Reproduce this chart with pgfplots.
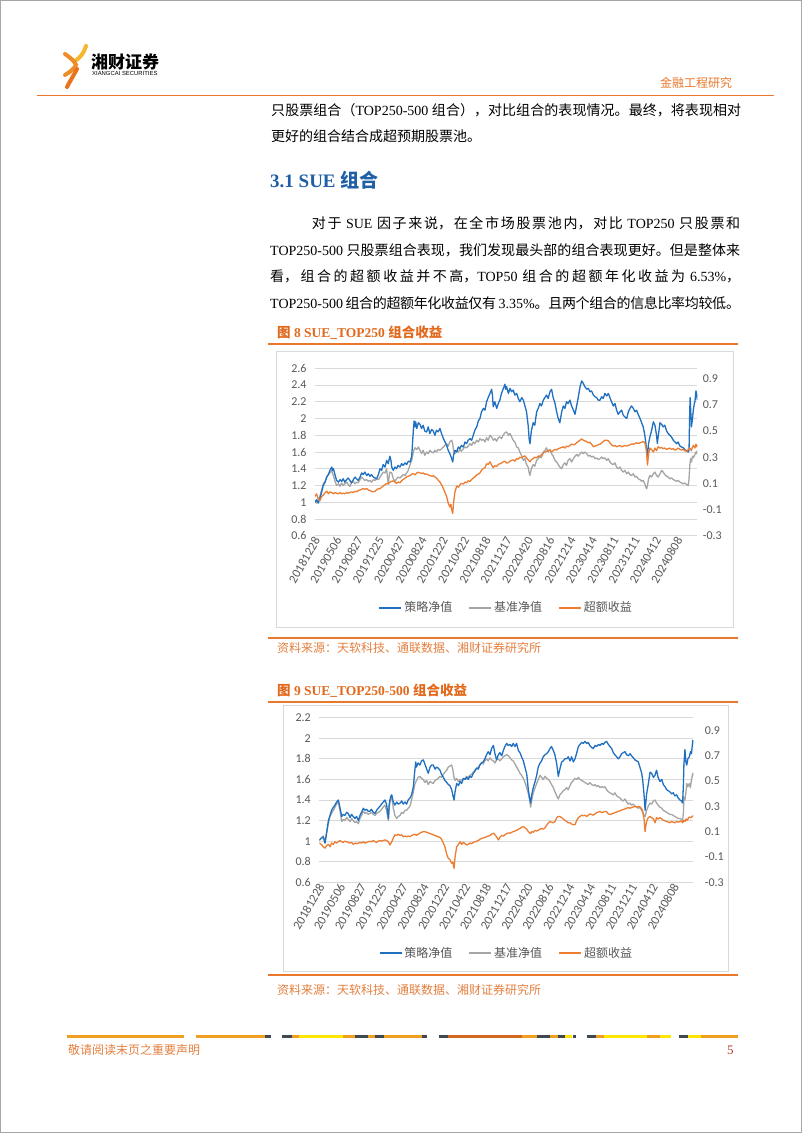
\documentclass[border=0pt]{standalone}
\usepackage{fontspec}
\setmainfont{Liberation Serif}
\newfontfamily\cjk{Noto Sans CJK SC}
\newfontfamily\tickfont{Carlito}
\newfontfamily\arialf{Liberation Sans}
\usepackage{pgfplots}
\pgfplotsset{compat=1.18}
\XeTeXlinebreaklocale "zh"
\XeTeXlinebreakskip=0pt plus 3pt minus 0.4pt
\definecolor{hdrorange}{HTML}{E9782C}
\definecolor{headblue}{HTML}{1F5FA6}
\definecolor{figorange}{HTML}{E2691C}
\definecolor{srcorange}{HTML}{E4803F}
\definecolor{sblue}{HTML}{1F70C1}
\definecolor{sgrey}{HTML}{A5A5A5}
\definecolor{sorange}{HTML}{ED7D31}
\definecolor{labc}{HTML}{595959}
\definecolor{gridc}{HTML}{D9D9D9}
\definecolor{fdark}{HTML}{404850}
\definecolor{fgold}{HTML}{F0A020}
\definecolor{fyel}{HTML}{FFE600}
\definecolor{fburnt}{HTML}{D2691E}
\newcommand\tickf{\tickfont\fontsize{12}{13}\selectfont}
\newcommand\xtickf{\tickfont\fontsize{12.5}{13}\selectfont}
\newcommand\bodyf{\fontsize{14}{16}\selectfont}
\newcommand\jline[2]{\parbox{#1}{\bodyf\parfillskip=0pt\parindent=0pt\noindent #2}}
\pgfplotsset{
  chartbase/.style={
    anchor=south west, scale only axis, xmin=0, xmax=1435,
    axis line style={draw=none}, major tick length=0pt,
    tick label style={font=\tickf, text=labc},
  },
  leftax/.style={
    chartbase, ymajorgrids, grid style={draw=gridc, line width=0.8pt},
    xtick={0,80,160,240,320,400,480,560,640,720,800,880,960,1040,1120,1200,1280,1360},
    xticklabels={20181228,20190506,20190827,20191225,20200427,20200824,20201222,20210422,20210818,20211217,20220420,20220816,20221214,20230414,20230811,20231211,20240412,20240808},
    xticklabel style={rotate=60, anchor=east, inner sep=1pt, yshift=-3pt, font=\xtickf},
    yticklabel style={anchor=east, xshift=-5pt},
  },
  rightax/.style={
    chartbase, axis y line*=right, axis x line=none,
    ymin=-0.3, ytick={-0.3,-0.1,0.1,0.3,0.5,0.7,0.9},
    yticklabels={-0.3,-0.1,0.1,0.3,0.5,0.7,0.9},
    legend style={at={(0.5,-0.43)}, anchor=center, draw=none, fill=none,
      legend columns=3, font=\cjk\fontsize{12}{14}\selectfont, text=labc,
      /tikz/every even column/.append style={column sep=14pt}},
    legend image code/.code={\draw[#1] (0pt,0pt) -- (22pt,0pt);},
  },
  bl/.style={sblue, line width=1.3pt, line join=round},
  gr/.style={sgrey, line width=1.3pt, line join=round},
  orl/.style={sorange, line width=1.3pt, line join=round},
}
\begin{document}
\begin{tikzpicture}
\useasboundingbox (0,0) rectangle (802pt,1133pt);
\begin{scope}[x=1pt,y=1pt]
\fill[white] (0,0) rectangle (802,1133);
\draw[gray!70, line width=1pt] (0.5,0.5) rectangle (801.5,1132.5);
% logo
\draw[color={rgb,255:red,247;green,181;blue,44}, line width=4pt, line cap=round] (86,1087) .. controls (84,1080) and (80,1075) .. (75,1072);
\draw[color={rgb,255:red,240;green,140;blue,40}, line width=4pt, line cap=round] (65,1079) .. controls (71,1075) and (75,1071) .. (76,1068) .. controls (74,1064) and (70,1061) .. (65,1058);
\draw[color={rgb,255:red,232;green,115;blue,28}, line width=4pt, line cap=round] (77,1064) .. controls (74,1058) and (70,1052) .. (67,1046);
\node[anchor=west, inner sep=0pt, font=\cjk\bfseries\fontsize{17}{18}\selectfont] at (91,1071.5) {湘财证券};
\node[anchor=west, inner sep=0pt, font=\arialf\fontsize{5.9}{7}\selectfont] at (92,1059.5) {XIANGCAI SECURITIES};
\node[anchor=west, inner sep=0pt, font=\cjk\fontsize{12}{14}\selectfont, text=hdrorange] at (660,1050.3) {金融工程研究};
\draw[hdrorange, line width=1.5pt] (37,1037.5) -- (774,1037.5);
% body text
\node[anchor=west, inner sep=0pt] at (271,1023) {\jline{470pt}{{\cjk 只股票组合（}TOP250-500 {\cjk 组合），对比组合的表现情况。最终，将表现相对}}};
\node[anchor=west, inner sep=0pt, font=\bodyf] at (271,996.3) {{\cjk 更好的组合结合成超预期股票池。}};
\node[anchor=west, inner sep=0pt, font=\fontsize{19}{21}\selectfont\bfseries, text=headblue] at (270,953) {3.1 SUE {\cjk\bfseries 组合}};
\node[anchor=west, inner sep=0pt] at (311.7,909.7) {\jline{428.3pt}{{\cjk 对于} SUE {\cjk 因子来说，在全市场股票池内，对比} TOP250 {\cjk 只股票和}}};
\node[anchor=west, inner sep=0pt] at (270,883) {\jline{470pt}{TOP250-500 {\cjk 只股票组合表现，我们发现最头部的组合表现更好。但是整体来}}};
\node[anchor=west, inner sep=0pt] at (270,856.3) {\jline{470pt}{{\cjk 看，组合的超额收益并不高，}TOP50 {\cjk 组合的超额年化收益为} 6.53\%{\cjk ，}}};
\node[anchor=west, inner sep=0pt] at (270,829.7) {\jline{470pt}{TOP250-500 {\cjk 组合的超额年化收益仅有} 3.35\%{\cjk 。且两个组合的信息比率均较低。}}};
% figure 8 frame
\node[anchor=west, inner sep=0pt, font=\fontsize{13.5}{15}\selectfont\bfseries, text=figorange] at (277,800) {{\cjk\bfseries 图} 8 SUE\_TOP250 {\cjk\bfseries 组合收益}};
\draw[hdrorange, line width=1.3pt] (268,789) -- (738,789);
\draw[gridc, line width=0.8pt] (276.7,506) rectangle (733,782);
\draw[hdrorange, line width=1.3pt] (268,495) -- (738,495);
\node[anchor=west, inner sep=0pt, font=\cjk\fontsize{12}{14}\selectfont, text=srcorange] at (277,485) {资料来源：天软科技、通联数据、湘财证券研究所};
% figure 9 frame
\node[anchor=west, inner sep=0pt, font=\fontsize{13.5}{15}\selectfont\bfseries, text=figorange] at (277,442.5) {{\cjk\bfseries 图} 9 SUE\_TOP250-500 {\cjk\bfseries 组合收益}};
\draw[hdrorange, line width=1.3pt] (268,431) -- (738,431);
\draw[gridc, line width=0.8pt] (283,161.3) rectangle (728,428);
\draw[hdrorange, line width=1.3pt] (268,158) -- (738,158);
\node[anchor=west, inner sep=0pt, font=\cjk\fontsize{12}{14}\selectfont, text=srcorange] at (277,143) {资料来源：天软科技、通联数据、湘财证券研究所};
% footer
\begin{scope}[line width=3pt]
\draw[fgold] (66.5,96) -- (184,96);
\draw[fgold] (196,96) -- (265,96); \draw[fdark] (265,96) -- (271,96);
\draw[fdark] (282,96) -- (292,96); \draw[fgold] (292,96) -- (299,96); \draw[fyel] (299,96) -- (343,96);
\draw[fgold] (343,96) -- (355,96); \draw[fdark] (355,96) -- (368,96); \draw[fgold] (368,96) -- (375,96);
\draw[fdark] (375,96) -- (384,96); \draw[fgold] (384,96) -- (422,96); \draw[fdark] (422,96) -- (427,96);
\draw[fdark] (439,96) -- (447.5,96); \draw[fburnt] (447.5,96) -- (522,96); \draw[fgold] (522,96) -- (537,96);
\draw[fdark] (537,96) -- (550,96); \draw[fgold] (550,96) -- (557.5,96); \draw[fdark] (557.5,96) -- (565,96);
\draw[fyel] (565,96) -- (572,96); \draw[fdark] (572.5,96) -- (575.5,96);
\draw[fdark] (587,96) -- (596,96); \draw[fgold] (596,96) -- (604,96); \draw[fyel] (604,96) -- (647,96);
\draw[fgold] (647,96) -- (660,96); \draw[fyel] (660,96) -- (671,96);
\draw[fdark] (679,96) -- (688,96); \draw[fyel] (688,96) -- (701,96); \draw[fgold] (701,96) -- (737.6,96);
\end{scope}
\node[anchor=west, inner sep=0pt, font=\cjk\fontsize{12}{14}\selectfont, text=srcorange] at (68,83) {敬请阅读末页之重要声明};
\node[anchor=west, inner sep=0pt, font=\fontsize{13}{14}\selectfont, text={rgb,255:red,192;green,57;blue,43}] at (727,83) {5};
\end{scope}

% ===== Chart 1 =====
\begin{axis}[leftax, at={(315pt,597.3pt)}, width=382.3pt, height=167.4pt,
  ymin=0.6, ymax=2.6, ytick={0.6,0.8,1,1.2,1.4,1.6,1.8,2,2.2,2.4,2.6},
  yticklabels={0.6,0.8,1,1.2,1.4,1.6,1.8,2,2.2,2.4,2.6}]
\addplot[gr] coordinates {(0,1.00)(6,0.99)(12,1.03)(19,1.08)(25,1.15)(31,1.22)(38,1.25)(44,1.30)(50,1.33)(56,1.35)(63,1.38)(66,1.34)(69,1.32)(75,1.25)(81,1.20)(88,1.22)(94,1.19)(100,1.23)(106,1.20)(112,1.22)(119,1.24)(125,1.21)(131,1.19)(137,1.23)(144,1.25)(150,1.22)(156,1.24)(162,1.23)(169,1.27)(175,1.30)(181,1.28)(187,1.26)(194,1.27)(200,1.25)(206,1.26)(212,1.24)(219,1.27)(225,1.26)(231,1.28)(238,1.27)(244,1.30)(250,1.33)(256,1.36)(263,1.35)(269,1.40)(272,1.30)(275,1.22)(278,1.30)(281,1.36)(288,1.35)(294,1.28)(300,1.25)(306,1.28)(312,1.30)(319,1.29)(325,1.31)(331,1.33)(338,1.32)(344,1.35)(350,1.38)(357,1.45)(363,1.50)(369,1.60)(375,1.65)(382,1.63)(388,1.66)(394,1.62)(400,1.58)(406,1.62)(412,1.56)(419,1.60)(425,1.58)(431,1.62)(438,1.60)(444,1.59)(450,1.62)(456,1.60)(462,1.63)(469,1.62)(475,1.64)(482,1.66)(488,1.68)(494,1.70)(500,1.67)(506,1.72)(513,1.74)(517,1.70)(520,1.62)(525,1.58)(532,1.62)(538,1.60)(544,1.63)(550,1.61)(557,1.64)(563,1.66)(569,1.65)(575,1.67)(582,1.70)(588,1.68)(594,1.72)(600,1.70)(607,1.74)(613,1.72)(619,1.76)(625,1.74)(632,1.75)(638,1.72)(644,1.77)(650,1.74)(657,1.80)(663,1.78)(669,1.74)(675,1.76)(682,1.73)(688,1.77)(694,1.78)(700,1.76)(706,1.80)(713,1.83)(719,1.84)(726,1.80)(732,1.82)(738,1.78)(744,1.74)(750,1.72)(757,1.66)(763,1.65)(769,1.60)(776,1.55)(782,1.50)(788,1.52)(794,1.45)(800,1.42)(804,1.35)(807,1.32)(812,1.40)(819,1.45)(825,1.43)(832,1.50)(838,1.52)(844,1.55)(850,1.53)(857,1.60)(863,1.62)(869,1.65)(875,1.60)(882,1.63)(888,1.58)(894,1.55)(901,1.50)(907,1.48)(913,1.45)(919,1.42)(926,1.40)(932,1.45)(938,1.47)(944,1.44)(950,1.50)(957,1.52)(963,1.48)(970,1.52)(976,1.55)(982,1.57)(988,1.55)(995,1.58)(1001,1.60)(1007,1.58)(1013,1.60)(1020,1.58)(1026,1.55)(1032,1.56)(1038,1.54)(1045,1.55)(1051,1.52)(1057,1.53)(1063,1.51)(1070,1.52)(1076,1.54)(1082,1.52)(1088,1.53)(1095,1.50)(1101,1.52)(1107,1.48)(1113,1.46)(1120,1.45)(1126,1.47)(1132,1.42)(1138,1.40)(1145,1.42)(1151,1.38)(1157,1.36)(1163,1.38)(1170,1.34)(1176,1.36)(1182,1.33)(1188,1.32)(1195,1.34)(1201,1.30)(1207,1.31)(1213,1.28)(1220,1.27)(1226,1.25)(1232,1.26)(1238,1.22)(1242,1.18)(1245,1.16)(1248,1.20)(1252,1.28)(1257,1.32)(1263,1.30)(1270,1.34)(1276,1.36)(1282,1.32)(1288,1.30)(1295,1.34)(1301,1.38)(1307,1.36)(1313,1.33)(1320,1.31)(1326,1.30)(1332,1.28)(1338,1.29)(1345,1.27)(1351,1.26)(1357,1.25)(1363,1.26)(1370,1.24)(1376,1.23)(1382,1.22)(1388,1.23)(1395,1.21)(1401,1.20)(1404,1.28)(1407,1.45)(1410,1.52)(1413,1.48)(1417,1.55)(1420,1.53)(1426,1.57)(1430,1.60)(1433,1.58)(1435,1.62)};
\addplot[bl] coordinates {(0,1.00)(6,1.03)(12,0.99)(19,1.05)(25,1.12)(31,1.20)(38,1.24)(44,1.30)(50,1.33)(56,1.38)(63,1.42)(66,1.38)(69,1.40)(75,1.33)(81,1.26)(88,1.24)(94,1.27)(100,1.25)(106,1.28)(112,1.24)(119,1.27)(125,1.29)(131,1.26)(137,1.23)(144,1.27)(150,1.30)(156,1.28)(162,1.26)(169,1.30)(175,1.35)(181,1.33)(187,1.36)(194,1.32)(200,1.34)(206,1.31)(212,1.33)(219,1.30)(225,1.29)(231,1.28)(238,1.33)(244,1.40)(250,1.38)(256,1.45)(263,1.42)(269,1.50)(275,1.46)(281,1.55)(285,1.50)(288,1.42)(294,1.38)(300,1.42)(306,1.40)(312,1.44)(319,1.42)(325,1.46)(331,1.44)(338,1.47)(344,1.45)(350,1.49)(357,1.48)(363,1.55)(366,1.70)(369,1.85)(372,1.97)(375,1.90)(378,1.96)(382,1.88)(388,1.95)(394,1.93)(400,1.88)(406,1.92)(412,1.85)(419,1.84)(425,1.90)(431,1.82)(438,1.87)(444,1.85)(450,1.80)(456,1.86)(462,1.84)(469,1.88)(475,1.82)(482,1.76)(488,1.72)(494,1.68)(500,1.62)(506,1.58)(510,1.55)(513,1.52)(517,1.48)(520,1.56)(525,1.62)(532,1.60)(538,1.66)(544,1.64)(550,1.68)(557,1.66)(563,1.72)(569,1.70)(575,1.74)(582,1.76)(588,1.74)(594,1.80)(600,1.86)(607,1.90)(613,1.97)(619,2.00)(625,2.08)(632,2.12)(638,2.10)(644,2.20)(650,2.25)(657,2.30)(663,2.35)(666,2.28)(669,2.14)(675,2.20)(682,2.12)(688,2.18)(694,2.22)(700,2.30)(706,2.35)(713,2.41)(716,2.35)(719,2.38)(726,2.30)(732,2.36)(738,2.32)(744,2.34)(750,2.28)(757,2.30)(763,2.24)(769,2.20)(776,2.25)(782,2.22)(788,2.15)(794,2.08)(800,1.92)(804,1.75)(807,1.70)(812,1.85)(819,1.95)(825,1.92)(832,2.08)(838,2.12)(844,2.18)(850,2.15)(857,2.22)(863,2.25)(869,2.28)(875,2.24)(882,2.32)(888,2.35)(894,2.25)(901,2.18)(907,2.08)(913,2.00)(919,1.95)(926,2.08)(932,2.15)(938,2.12)(944,2.20)(950,2.18)(957,2.22)(963,2.15)(970,2.10)(976,2.05)(982,2.15)(988,2.25)(995,2.38)(1001,2.45)(1007,2.42)(1013,2.38)(1020,2.35)(1026,2.36)(1032,2.32)(1038,2.33)(1045,2.28)(1051,2.26)(1057,2.25)(1063,2.22)(1070,2.22)(1076,2.26)(1082,2.24)(1088,2.30)(1095,2.27)(1101,2.30)(1107,2.25)(1113,2.20)(1120,2.15)(1126,2.18)(1132,2.10)(1138,2.05)(1145,2.08)(1151,2.10)(1157,2.04)(1163,2.02)(1170,2.00)(1176,2.08)(1182,2.12)(1188,2.15)(1195,2.12)(1201,2.08)(1207,2.10)(1213,2.05)(1220,2.00)(1226,1.95)(1232,1.90)(1238,1.80)(1242,1.70)(1245,1.62)(1248,1.55)(1252,1.70)(1257,1.78)(1263,1.85)(1270,1.96)(1276,1.92)(1282,1.80)(1285,1.70)(1288,1.78)(1295,1.95)(1301,1.93)(1307,1.90)(1313,1.92)(1320,1.85)(1326,1.82)(1332,1.80)(1338,1.78)(1345,1.74)(1351,1.72)(1357,1.70)(1363,1.72)(1370,1.67)(1376,1.66)(1382,1.65)(1388,1.63)(1395,1.61)(1401,1.60)(1404,1.62)(1406,2.00)(1408,2.25)(1411,2.05)(1413,1.90)(1417,2.00)(1420,2.10)(1424,2.18)(1426,2.20)(1430,2.33)(1433,2.28)(1435,2.22)};
\end{axis}
\begin{axis}[rightax, at={(315pt,597.3pt)}, width=382.3pt, height=167.4pt,
  ymax=0.98, yticklabel style={anchor=west, xshift=2pt}]
\addlegendimage{bl, line width=1.8pt}\addlegendentry{策略净值}
\addlegendimage{gr, line width=1.8pt}\addlegendentry{基准净值}
\addlegendimage{orl, line width=1.8pt}\addlegendentry{超额收益}
\addplot[orl, forget plot] coordinates {(0,0.00)(6,0.02)(12,-0.02)(19,-0.03)(25,0.00)(31,0.01)(38,0.03)(44,0.04)(50,0.02)(56,0.035)(63,0.03)(69,0.02)(75,0.03)(81,0.025)(88,0.02)(94,0.03)(100,0.02)(106,0.025)(112,0.02)(119,0.03)(125,0.025)(131,0.03)(137,0.035)(144,0.03)(150,0.04)(156,0.035)(162,0.045)(169,0.05)(175,0.055)(181,0.06)(187,0.055)(194,0.06)(200,0.05)(206,0.045)(212,0.04)(219,0.035)(225,0.04)(231,0.05)(238,0.06)(244,0.06)(250,0.07)(256,0.08)(263,0.09)(269,0.10)(275,0.095)(281,0.11)(288,0.115)(294,0.12)(300,0.11)(306,0.10)(312,0.11)(319,0.105)(325,0.12)(331,0.13)(338,0.14)(344,0.15)(350,0.155)(357,0.16)(363,0.17)(369,0.175)(375,0.165)(382,0.18)(388,0.185)(394,0.18)(400,0.175)(406,0.18)(412,0.17)(419,0.172)(425,0.165)(431,0.16)(438,0.155)(444,0.158)(450,0.15)(456,0.14)(462,0.125)(469,0.11)(475,0.09)(482,0.06)(488,0.03)(494,0.00)(500,-0.05)(506,-0.08)(510,-0.06)(513,-0.10)(517,-0.13)(520,-0.05)(525,0.03)(529,0.06)(532,0.08)(538,0.07)(544,0.09)(550,0.10)(557,0.095)(563,0.11)(569,0.105)(575,0.12)(582,0.115)(588,0.13)(594,0.14)(600,0.15)(607,0.165)(613,0.17)(619,0.18)(625,0.20)(632,0.215)(638,0.22)(644,0.25)(650,0.245)(657,0.265)(663,0.24)(669,0.22)(675,0.235)(682,0.23)(688,0.245)(694,0.25)(700,0.255)(706,0.265)(713,0.27)(719,0.255)(726,0.26)(732,0.27)(738,0.275)(744,0.28)(750,0.27)(757,0.29)(763,0.285)(769,0.30)(776,0.295)(782,0.305)(788,0.31)(794,0.295)(800,0.28)(807,0.265)(812,0.28)(819,0.29)(825,0.30)(832,0.295)(838,0.31)(844,0.305)(850,0.32)(857,0.33)(863,0.34)(869,0.345)(875,0.35)(882,0.355)(888,0.34)(894,0.35)(901,0.36)(907,0.355)(913,0.365)(919,0.37)(926,0.375)(932,0.38)(938,0.37)(944,0.385)(950,0.38)(957,0.39)(963,0.40)(970,0.395)(976,0.40)(982,0.41)(988,0.42)(995,0.43)(1001,0.44)(1007,0.43)(1013,0.425)(1020,0.42)(1026,0.41)(1032,0.415)(1038,0.40)(1045,0.38)(1051,0.385)(1057,0.39)(1063,0.395)(1070,0.40)(1076,0.41)(1082,0.42)(1088,0.43)(1095,0.43)(1101,0.425)(1107,0.41)(1113,0.395)(1120,0.385)(1126,0.39)(1132,0.38)(1138,0.385)(1145,0.39)(1151,0.38)(1157,0.385)(1163,0.39)(1170,0.385)(1176,0.39)(1182,0.395)(1188,0.40)(1195,0.40)(1201,0.405)(1207,0.41)(1213,0.405)(1220,0.41)(1226,0.415)(1232,0.42)(1238,0.41)(1242,0.38)(1245,0.32)(1248,0.24)(1252,0.32)(1257,0.37)(1263,0.36)(1270,0.34)(1276,0.37)(1282,0.35)(1288,0.38)(1295,0.37)(1301,0.375)(1307,0.365)(1313,0.37)(1320,0.36)(1326,0.365)(1332,0.37)(1338,0.36)(1345,0.365)(1351,0.355)(1357,0.36)(1363,0.37)(1370,0.36)(1376,0.355)(1382,0.36)(1388,0.35)(1395,0.345)(1401,0.36)(1407,0.37)(1413,0.35)(1417,0.38)(1420,0.39)(1426,0.37)(1430,0.40)(1433,0.38)(1435,0.395)};
\end{axis}

% ===== Chart 2 =====
\begin{axis}[leftax, at={(319.3pt,250.7pt)}, width=374pt, height=164.6pt,
  ymin=0.6, ymax=2.2, ytick={0.6,0.8,1,1.2,1.4,1.6,1.8,2,2.2},
  yticklabels={0.6,0.8,1,1.2,1.4,1.6,1.8,2,2.2}]
\addplot[gr] coordinates {(0,1.01)(8,1.03)(15,1.05)(22,1.00)(28,1.08)(35,1.18)(41,1.24)(47,1.27)(54,1.30)(60,1.33)(66,1.36)(73,1.38)(79,1.30)(86,1.19)(92,1.21)(98,1.20)(105,1.23)(111,1.21)(118,1.19)(124,1.22)(130,1.20)(137,1.18)(143,1.19)(150,1.17)(156,1.22)(162,1.25)(169,1.29)(175,1.27)(181,1.28)(188,1.26)(194,1.27)(200,1.28)(207,1.26)(214,1.25)(220,1.27)(226,1.28)(233,1.29)(239,1.31)(245,1.33)(252,1.35)(258,1.30)(262,1.24)(265,1.20)(268,1.32)(271,1.38)(275,1.42)(278,1.43)(284,1.32)(290,1.25)(297,1.22)(303,1.24)(310,1.25)(316,1.28)(322,1.27)(329,1.30)(335,1.30)(341,1.32)(348,1.34)(354,1.40)(361,1.48)(367,1.56)(373,1.59)(379,1.62)(386,1.63)(392,1.61)(399,1.60)(405,1.57)(412,1.59)(418,1.55)(425,1.58)(431,1.57)(437,1.56)(444,1.59)(450,1.60)(456,1.61)(463,1.63)(469,1.62)(476,1.65)(482,1.67)(489,1.69)(495,1.72)(501,1.73)(508,1.74)(512,1.70)(517,1.62)(521,1.59)(527,1.61)(534,1.58)(540,1.60)(546,1.59)(553,1.61)(559,1.60)(565,1.63)(571,1.62)(578,1.64)(584,1.65)(591,1.67)(597,1.69)(604,1.71)(610,1.72)(616,1.74)(622,1.76)(629,1.75)(635,1.78)(642,1.80)(648,1.78)(655,1.81)(661,1.79)(668,1.78)(674,1.76)(680,1.79)(687,1.80)(693,1.78)(700,1.80)(706,1.82)(712,1.83)(719,1.84)(725,1.83)(732,1.81)(738,1.79)(744,1.78)(751,1.75)(757,1.72)(764,1.69)(770,1.66)(776,1.64)(783,1.61)(789,1.57)(796,1.52)(802,1.46)(807,1.40)(811,1.33)(815,1.40)(821,1.47)(828,1.52)(834,1.56)(840,1.60)(847,1.64)(853,1.62)(859,1.60)(866,1.63)(872,1.61)(879,1.60)(885,1.58)(891,1.55)(898,1.52)(904,1.48)(911,1.44)(917,1.41)(923,1.45)(930,1.47)(936,1.49)(942,1.50)(949,1.52)(955,1.50)(962,1.54)(968,1.57)(975,1.59)(981,1.61)(988,1.60)(994,1.62)(1000,1.60)(1007,1.59)(1013,1.58)(1019,1.57)(1026,1.56)(1032,1.55)(1038,1.57)(1045,1.55)(1051,1.54)(1058,1.55)(1064,1.53)(1071,1.54)(1077,1.52)(1084,1.53)(1090,1.52)(1096,1.53)(1102,1.50)(1109,1.48)(1115,1.47)(1122,1.46)(1128,1.45)(1134,1.47)(1141,1.44)(1147,1.43)(1154,1.42)(1160,1.40)(1166,1.39)(1173,1.41)(1179,1.38)(1186,1.36)(1192,1.37)(1198,1.35)(1205,1.36)(1211,1.34)(1218,1.33)(1224,1.32)(1230,1.33)(1237,1.30)(1241,1.28)(1246,1.25)(1250,1.24)(1256,1.30)(1262,1.34)(1269,1.37)(1275,1.36)(1282,1.39)(1288,1.40)(1294,1.37)(1300,1.35)(1307,1.33)(1314,1.32)(1320,1.30)(1326,1.29)(1333,1.28)(1339,1.27)(1345,1.26)(1352,1.26)(1358,1.25)(1364,1.24)(1371,1.23)(1377,1.22)(1384,1.22)(1390,1.21)(1394,1.20)(1397,1.28)(1399,1.43)(1403,1.40)(1407,1.48)(1410,1.56)(1414,1.53)(1420,1.56)(1424,1.52)(1428,1.60)(1433,1.66)(1435,1.63)};
\addplot[bl] coordinates {(0,1.01)(8,1.03)(15,1.04)(22,0.98)(28,1.08)(35,1.20)(41,1.25)(47,1.30)(54,1.33)(60,1.35)(66,1.38)(73,1.40)(79,1.33)(86,1.24)(92,1.26)(98,1.25)(105,1.28)(111,1.27)(118,1.23)(124,1.26)(130,1.24)(137,1.22)(143,1.24)(150,1.20)(156,1.25)(162,1.28)(169,1.32)(175,1.30)(181,1.31)(188,1.29)(194,1.29)(200,1.31)(207,1.28)(214,1.27)(220,1.30)(226,1.32)(233,1.34)(239,1.36)(245,1.38)(252,1.40)(258,1.36)(262,1.28)(265,1.22)(268,1.35)(271,1.40)(275,1.44)(278,1.45)(284,1.38)(290,1.35)(297,1.38)(303,1.36)(310,1.37)(316,1.39)(322,1.36)(329,1.38)(335,1.36)(341,1.40)(348,1.42)(354,1.45)(361,1.53)(364,1.62)(367,1.70)(370,1.77)(373,1.72)(379,1.76)(386,1.74)(392,1.78)(399,1.79)(405,1.75)(412,1.70)(418,1.66)(425,1.72)(431,1.74)(437,1.74)(444,1.70)(450,1.72)(456,1.71)(463,1.69)(469,1.65)(476,1.62)(482,1.59)(489,1.57)(495,1.55)(501,1.54)(508,1.50)(512,1.45)(517,1.40)(521,1.48)(527,1.56)(534,1.54)(540,1.58)(546,1.56)(553,1.61)(559,1.60)(565,1.62)(571,1.60)(578,1.63)(584,1.62)(591,1.66)(597,1.68)(604,1.71)(610,1.70)(616,1.74)(622,1.76)(629,1.77)(635,1.80)(642,1.84)(648,1.87)(655,1.84)(661,1.90)(668,1.93)(674,1.85)(680,1.79)(687,1.84)(693,1.86)(700,1.83)(706,1.88)(712,1.92)(719,1.95)(725,1.93)(732,1.94)(738,1.92)(744,1.95)(751,1.92)(757,1.95)(764,1.88)(770,1.86)(776,1.82)(783,1.78)(789,1.72)(796,1.65)(802,1.50)(807,1.42)(811,1.37)(815,1.45)(821,1.52)(828,1.58)(834,1.64)(840,1.72)(847,1.76)(853,1.78)(859,1.82)(866,1.84)(872,1.85)(879,1.87)(885,1.90)(891,1.92)(898,1.88)(904,1.84)(911,1.75)(917,1.63)(923,1.70)(930,1.77)(936,1.78)(942,1.80)(949,1.80)(955,1.82)(962,1.78)(968,1.82)(975,1.77)(981,1.80)(988,1.86)(994,1.92)(1000,1.94)(1007,1.96)(1013,1.95)(1019,1.97)(1026,1.95)(1032,1.96)(1038,1.93)(1045,1.91)(1051,1.90)(1058,1.93)(1064,1.92)(1071,1.94)(1077,1.93)(1084,1.95)(1090,1.94)(1096,1.96)(1102,1.97)(1109,1.94)(1115,1.92)(1122,1.90)(1128,1.86)(1134,1.84)(1141,1.82)(1147,1.80)(1154,1.82)(1160,1.85)(1166,1.86)(1173,1.87)(1179,1.84)(1186,1.83)(1192,1.85)(1198,1.83)(1205,1.81)(1211,1.79)(1218,1.78)(1224,1.77)(1230,1.72)(1237,1.66)(1241,1.59)(1246,1.45)(1250,1.30)(1253,1.38)(1256,1.46)(1262,1.55)(1269,1.67)(1275,1.66)(1282,1.62)(1288,1.64)(1294,1.69)(1300,1.62)(1307,1.58)(1314,1.60)(1320,1.55)(1326,1.53)(1333,1.50)(1339,1.49)(1345,1.48)(1352,1.46)(1358,1.47)(1364,1.44)(1371,1.45)(1377,1.42)(1384,1.40)(1390,1.39)(1394,1.37)(1397,1.55)(1399,1.75)(1403,1.89)(1407,1.76)(1410,1.74)(1414,1.80)(1420,1.82)(1424,1.87)(1428,1.85)(1433,1.98)(1435,1.95)};
\end{axis}
\begin{axis}[rightax, at={(319.3pt,250.7pt)}, width=374pt, height=164.6pt,
  ymax=1.0, yticklabel style={anchor=west, xshift=8pt}]
\addlegendimage{bl, line width=1.8pt}\addlegendentry{策略净值}
\addlegendimage{gr, line width=1.8pt}\addlegendentry{基准净值}
\addlegendimage{orl, line width=1.8pt}\addlegendentry{超额收益}
\addplot[orl, forget plot] coordinates {(0,0.01)(8,0.00)(15,-0.02)(22,-0.03)(28,-0.01)(35,0.00)(41,-0.02)(47,0.01)(54,0.00)(60,0.02)(66,0.01)(73,0.02)(79,0.03)(86,0.02)(92,0.015)(98,0.025)(105,0.02)(111,0.015)(118,0.01)(124,0.015)(130,0.00)(137,0.01)(143,0.005)(150,0.01)(156,0.015)(162,0.01)(169,0.02)(175,0.01)(181,0.015)(188,0.02)(194,0.025)(200,0.02)(207,0.03)(214,0.02)(220,0.015)(226,0.025)(233,0.03)(239,0.025)(245,0.03)(252,0.035)(258,0.03)(265,0.02)(271,-0.005)(278,0.02)(284,0.05)(290,0.075)(297,0.07)(303,0.08)(310,0.07)(316,0.075)(322,0.06)(329,0.065)(335,0.06)(341,0.065)(348,0.06)(354,0.07)(361,0.075)(367,0.08)(373,0.07)(380,0.08)(386,0.088)(392,0.095)(399,0.10)(405,0.10)(412,0.095)(418,0.09)(425,0.085)(431,0.08)(437,0.075)(444,0.07)(450,0.065)(456,0.06)(463,0.055)(469,0.04)(476,0.01)(482,-0.02)(489,-0.08)(495,-0.11)(501,-0.12)(508,-0.15)(512,-0.14)(517,-0.19)(521,-0.10)(527,-0.02)(534,0.00)(540,0.02)(546,0.00)(553,0.015)(559,0.005)(565,-0.005)(571,0.00)(578,0.01)(584,0.005)(591,0.015)(597,0.02)(604,0.025)(610,0.03)(616,0.04)(622,0.045)(629,0.05)(635,0.055)(642,0.06)(648,0.065)(655,0.07)(661,0.08)(668,0.088)(674,0.075)(680,0.06)(687,0.035)(693,0.055)(700,0.07)(706,0.065)(712,0.075)(719,0.085)(725,0.09)(732,0.088)(738,0.095)(744,0.10)(751,0.105)(757,0.11)(764,0.12)(770,0.125)(776,0.135)(783,0.14)(789,0.13)(796,0.12)(802,0.10)(807,0.09)(811,0.085)(815,0.10)(821,0.095)(828,0.11)(834,0.105)(840,0.11)(847,0.12)(853,0.125)(859,0.12)(866,0.13)(872,0.15)(879,0.17)(885,0.18)(891,0.175)(898,0.17)(904,0.18)(911,0.21)(917,0.22)(923,0.22)(930,0.21)(936,0.20)(942,0.19)(949,0.18)(955,0.17)(962,0.17)(968,0.16)(975,0.155)(981,0.155)(988,0.19)(994,0.21)(1000,0.22)(1007,0.23)(1013,0.225)(1019,0.23)(1026,0.22)(1032,0.23)(1038,0.24)(1045,0.235)(1051,0.23)(1058,0.24)(1064,0.25)(1071,0.255)(1077,0.26)(1084,0.25)(1090,0.255)(1096,0.26)(1102,0.258)(1109,0.24)(1115,0.235)(1122,0.24)(1128,0.245)(1134,0.25)(1141,0.255)(1147,0.26)(1154,0.265)(1160,0.27)(1166,0.275)(1173,0.28)(1179,0.285)(1186,0.29)(1192,0.285)(1198,0.29)(1205,0.295)(1211,0.30)(1218,0.295)(1224,0.30)(1230,0.295)(1237,0.28)(1241,0.26)(1246,0.20)(1250,0.10)(1253,0.15)(1256,0.18)(1262,0.21)(1269,0.22)(1275,0.21)(1282,0.20)(1288,0.17)(1294,0.21)(1300,0.20)(1307,0.21)(1314,0.20)(1320,0.19)(1326,0.185)(1333,0.18)(1339,0.175)(1345,0.17)(1352,0.18)(1358,0.175)(1364,0.17)(1371,0.18)(1377,0.175)(1384,0.18)(1390,0.185)(1394,0.17)(1399,0.19)(1403,0.18)(1407,0.20)(1412,0.19)(1417,0.21)(1420,0.215)(1426,0.21)(1430,0.22)(1435,0.225)};
\end{axis}
\end{tikzpicture}
\end{document}
